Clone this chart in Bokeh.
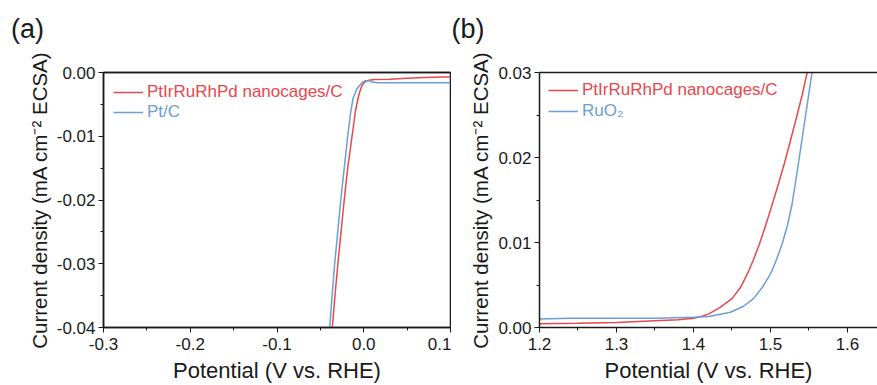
from bokeh.plotting import figure
from bokeh.layouts import row
from bokeh.models import (Range1d, FixedTicker, NumeralTickFormatter, Legend,
                          LegendItem, LinearAxis, Title)
from bokeh.embed import file_html
from bokeh.resources import INLINE

# ---------------- data ----------------
# (a) HER polarisation
her_cage_v = [-0.0362, -0.0332, -0.0298, -0.0262, -0.0225, -0.0185, -0.0135, -0.0095,
              -0.0065, -0.0045, -0.0025, -0.0005, 0.0025, 0.0060, 0.0120, 0.0300,
              0.0500, 0.0700, 0.0900, 0.1000]
her_cage_j = [-0.040, -0.035, -0.030, -0.025, -0.020, -0.015, -0.010, -0.006,
              -0.004, -0.0030, -0.0022, -0.0017, -0.0014, -0.0012, -0.0011, -0.00105,
              -0.0009, -0.0008, -0.00072, -0.0007]
her_ptc_v = [-0.0392, -0.0365, -0.0335, -0.0300, -0.0265, -0.0225, -0.0185, -0.0148,
             -0.0122, -0.0080, -0.0040, -0.0010, 0.0020, 0.0060, 0.0100, 0.0150,
             0.0500, 0.1000]
her_ptc_j = [-0.040, -0.035, -0.030, -0.025, -0.020, -0.015, -0.010, -0.006,
             -0.004, -0.0026, -0.0019, -0.0015, -0.0013, -0.0013, -0.0015, -0.0016,
             -0.0016, -0.0016]

# (b) OER polarisation
oer_cage_v = [1.20, 1.25, 1.30, 1.35, 1.38, 1.40, 1.41, 1.42, 1.435, 1.45, 1.461,
              1.47, 1.478, 1.486, 1.494, 1.502, 1.510, 1.518, 1.526, 1.534, 1.541,
              1.5477]
oer_cage_j = [0.00045, 0.0005, 0.0006, 0.0008, 0.0009, 0.0011, 0.0013, 0.0016, 0.0024,
              0.0034, 0.0047, 0.0063, 0.0080, 0.0099, 0.0121, 0.0144, 0.0168, 0.0193,
              0.0220, 0.0248, 0.0273, 0.0300]
oer_ruo2_v = [1.20, 1.24, 1.30, 1.35, 1.40, 1.42, 1.448, 1.465, 1.478, 1.490, 1.500,
              1.507, 1.515, 1.522, 1.528, 1.535, 1.544, 1.554]
oer_ruo2_j = [0.0010, 0.0011, 0.0011, 0.0011, 0.0012, 0.0013, 0.0018, 0.0025, 0.0034,
              0.0048, 0.0063, 0.0078, 0.0098, 0.0120, 0.0145, 0.0185, 0.0240, 0.0300]

her_x_ticks = [-0.3, -0.2, -0.1, 0.0, 0.1]
her_x_minor = [-0.25, -0.15, -0.05, 0.05]
her_y_ticks = [-0.04, -0.03, -0.02, -0.01, 0.0]
her_y_minor = [-0.035, -0.025, -0.015, -0.005]
oer_x_ticks = [1.2, 1.3, 1.4, 1.5, 1.6]
oer_x_minor = [1.25, 1.35, 1.45, 1.55]
oer_y_ticks = [0.0, 0.01, 0.02, 0.03]
oer_y_minor = [0.005, 0.015, 0.025]

cage_label = "PtIrRuRhPd nanocages/C"
ptc_label = "Pt/C"
ruo2_label = "RuO₂"
x_title = "Potential (V vs. RHE)"
y_title = "Current density (mA cm⁻² ECSA)"

RED = "#E8474C"
BLUE = "#6A9ED6"
INK = "#1a1a1a"
FONT = "Liberation Sans"


def style_axis(ax, ticks, minor, fmt, label, label_size, tick_std, label_std):
    ax.ticker = FixedTicker(ticks=ticks, minor_ticks=minor)
    ax.formatter = NumeralTickFormatter(format=fmt)
    ax.major_label_text_font = FONT
    ax.major_label_text_font_size = "17px"
    ax.major_label_text_color = INK
    ax.major_label_standoff = tick_std
    ax.axis_line_color = INK
    ax.axis_line_width = 1.5
    ax.major_tick_line_color = INK
    ax.minor_tick_line_color = INK
    ax.major_tick_in = 0
    ax.major_tick_out = 5
    ax.minor_tick_in = 0
    ax.minor_tick_out = 3
    ax.axis_label = label
    ax.axis_label_standoff = label_std
    ax.axis_label_text_font = FONT
    ax.axis_label_text_font_size = label_size
    ax.axis_label_text_font_style = "normal"
    ax.axis_label_text_color = INK


def make_panel(width, xr, yr, xt, xm, yt, ym, border_left, border_right,
               full_box, letter, letter_offset):
    p = figure(width=width, height=385, output_backend="svg", toolbar_location=None,
               x_range=Range1d(*xr), y_range=Range1d(*yr),
               min_border_left=border_left, min_border_right=border_right,
               min_border_top=72, min_border_bottom=58)
    p.grid.visible = False
    p.background_fill_color = "white"
    p.border_fill_color = "white"
    style_axis(p.below[0], xt, xm, "0.0", x_title, "22px", 5, 5)
    style_axis(p.left[0], yt, ym, "0.00", y_title, "20.5px", 3, 3)
    if full_box:
        p.outline_line_color = INK
        p.outline_line_width = 1.5
    else:
        p.outline_line_color = None
    # top frame line; its (invisible) ticks leave room under the panel letter
    top = LinearAxis(major_tick_out=28, major_tick_in=0, minor_tick_out=0,
                     minor_tick_in=0, major_tick_line_color=None,
                     minor_tick_line_color=None, major_label_text_font_size="0px",
                     major_label_text_alpha=0, major_label_standoff=0,
                     axis_line_width=1.5, axis_line_color=INK)
    p.add_layout(top, "above")
    p.title = Title(text=letter, align="left", offset=letter_offset, standoff=2,
                    text_font=FONT, text_font_size="27px", text_font_style="normal",
                    text_color=INK)
    return p


def add_legend(p, renderer, label, color, x, y):
    leg = Legend(items=[LegendItem(label=label, renderers=[renderer])],
                 location=(x, y), padding=0, margin=0, glyph_width=30,
                 glyph_height=20, label_standoff=4, label_height=20,
                 border_line_color=None, background_fill_alpha=0,
                 label_text_font=FONT, label_text_font_size="17px",
                 label_text_color=color)
    p.add_layout(leg)


# ---------------- panel (a) ----------------
pa = make_panel(451, (-0.3, 0.1), (-0.04, 0.0), her_x_ticks, her_x_minor,
                her_y_ticks, her_y_minor, 103, 1, True, "(a)", -92.5)
ra1 = pa.line(her_cage_v, her_cage_j, line_color=RED, line_width=1.5)
ra2 = pa.line(her_ptc_v, her_ptc_j, line_color=BLUE, line_width=1.5)
add_legend(pa, ra1, cage_label, RED, 10, 225)
add_legend(pa, ra2, ptc_label, BLUE, 10, 205)

# ---------------- panel (b) ----------------
pb = make_panel(426, (1.2, 1.639), (0.0, 0.03), oer_x_ticks, oer_x_minor,
                oer_y_ticks, oer_y_minor, 88, 0, False, "(b)", -88)
rb1 = pb.line(oer_cage_v, oer_cage_j, line_color=RED, line_width=1.5)
rb2 = pb.line(oer_ruo2_v, oer_ruo2_j, line_color=BLUE, line_width=1.5)
add_legend(pb, rb1, cage_label, RED, 9, 227)
add_legend(pb, rb2, ruo2_label, BLUE, 9, 206)

layout = row(pa, pb)
open("out.html", "w").write(file_html(layout, INLINE))
